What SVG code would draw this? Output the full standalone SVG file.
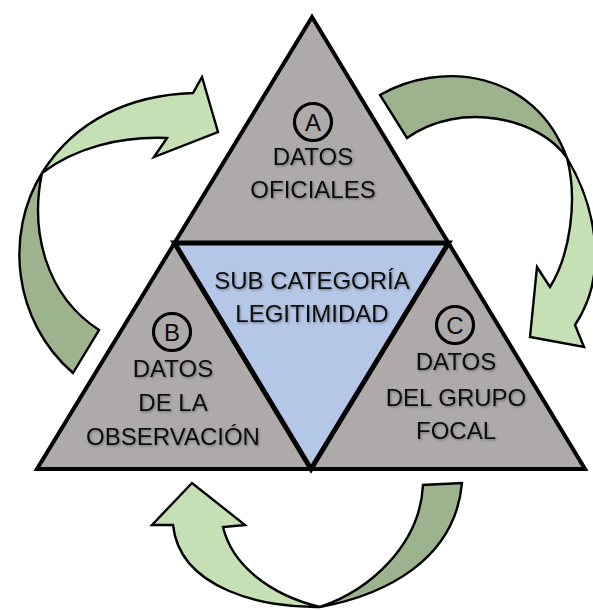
<svg xmlns="http://www.w3.org/2000/svg" width="593" height="610" viewBox="0 0 593 610">
<defs>
<filter id="sh" x="-10%" y="-20%" width="120%" height="140%">
<feDropShadow dx="1" dy="1.2" stdDeviation="0.9" flood-color="#444" flood-opacity="0.6"/>
</filter>
</defs>
<style>
.tri{fill:#aeaaaa;stroke:#000;stroke-width:4;stroke-linejoin:miter}
.mid{fill:#b4c7e7;stroke:#000;stroke-width:5;stroke-linejoin:miter}
.lt{fill:#c5e0b4;stroke:#000;stroke-width:2.4;stroke-linejoin:miter}
.dk{fill:#9db38d;stroke:#000;stroke-width:2.4;stroke-linejoin:miter}
.ring{fill:none;stroke:#000;stroke-width:3.2}
.t{font-family:"Liberation Sans",Arial,sans-serif;font-size:24px;fill:#0a0a0a;text-anchor:middle;filter:url(#sh)}
.l{font-family:"Liberation Sans",Arial,sans-serif;font-size:24px;fill:#0a0a0a;text-anchor:middle}
</style>
<rect width="593" height="610" fill="#fff"/>
<g id="connectors">
<g id="arrow-left">
<path class="dk" d="M42,173 C5,233 12,320 73,373 L99,330 C45,295 30,230 42,173 Z"/>
<path class="lt" d="M42,173 C75,120 130,95 193,93 L202,77 L218,132 L154,157 L167,138 C120,136 75,148 42,173 Z"/>
</g>
<g id="arrow-right">
<path class="dk" d="M380,95 C440,60 535,70 567,158 C540,118 460,100 407,138 Z"/>
<path class="lt" d="M567,158 C592,200 612,270 575,325 L584,347 L530,337 L537,267 L550,287 C570,255 578,200 567,158 Z"/>
</g>
<g id="arrow-bottom">
<path class="dk" d="M320,607 C385,595 455,560 462,483 L423,485 C420,545 370,590 320,607 Z"/>
<path class="lt" d="M320,607 C265,608 180,590 173,525 L152,525 L192,483 L245,525 L223,527 C232,565 270,595 320,607 Z"/>
</g>
</g>
<g id="node-a">
<polygon class="tri" points="312,17 448.5,243 174.5,243"/>
<circle class="ring" cx="313" cy="122" r="18.5"/>
<text class="l" x="313" y="131">A</text>
<text class="t" x="313" y="165">DATOS</text>
<text class="t" x="313" y="198">OFICIALES</text>
</g>
<g id="node-b">
<polygon class="tri" points="174.5,243 311,469 37,469"/>
<circle class="ring" cx="172" cy="332" r="18.5"/>
<text class="l" x="172" y="341">B</text>
<text class="t" x="173" y="377">DATOS</text>
<text class="t" x="173" y="411">DE LA</text>
<text class="t" x="173" y="445">OBSERVACIÓN</text>
</g>
<g id="node-c">
<polygon class="tri" points="448.5,243 585,469 311,469"/>
<circle class="ring" cx="455" cy="325" r="18.5"/>
<text class="l" x="455" y="334">C</text>
<text class="t" x="456" y="370">DATOS</text>
<text class="t" x="456" y="406">DEL GRUPO</text>
<text class="t" x="456" y="439">FOCAL</text>
</g>
<g id="node-center">
<polygon class="mid" points="174.5,243 448.5,243 311,469"/>
<text class="t" x="312" y="289">SUB CATEGORÍA</text>
<text class="t" x="312" y="322">LEGITIMIDAD</text>
</g>
</svg>
